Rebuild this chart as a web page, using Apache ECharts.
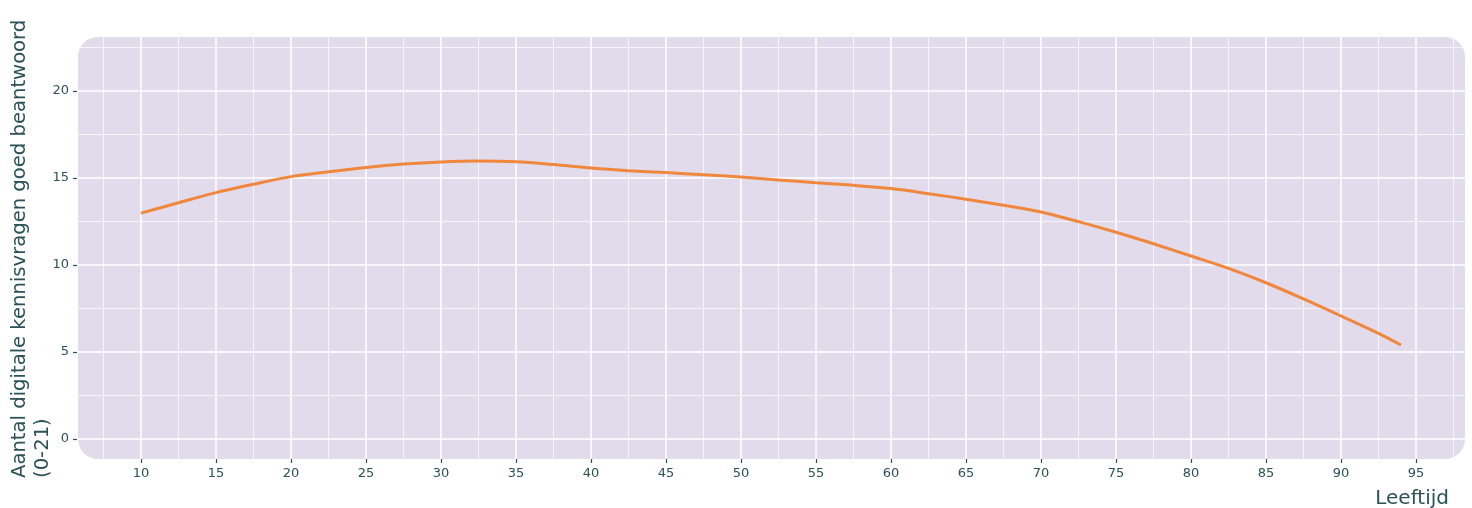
<!DOCTYPE html>
<html>
<head>
<meta charset="utf-8">
<script src="https://cdn.jsdelivr.net/npm/echarts@6/dist/echarts.min.js"></script>
<style>
  html, body { margin: 0; padding: 0; background: #fff; }
  #chart { width: 1472px; height: 508px; }
</style>
</head>
<body>
<div id="chart"></div>
<script>
// leeftijd (x) en gemiddeld aantal goed beantwoorde vragen (y)
const ages = [10, 12.5, 15, 17.5, 20, 22.5, 25, 27.5, 30, 32.5, 35, 37.5, 40, 42.5, 45, 47.5, 50,
  52.5, 55, 57.5, 60, 62.5, 65, 67.5, 70, 72.5, 75, 77.5, 80, 82.5, 85, 87.5, 90, 92.5, 94];
const scores = [12.98, 13.58, 14.16, 14.64, 15.08, 15.36, 15.61, 15.80, 15.92, 15.97, 15.93, 15.77, 15.57,
  15.42, 15.31, 15.19, 15.06, 14.89, 14.73, 14.58, 14.39, 14.10, 13.78, 13.43, 13.05, 12.49, 11.88,
  11.22, 10.52, 9.81, 8.98, 8.05, 7.07, 6.07, 5.40];
const xTicks = [10, 15, 20, 25, 30, 35, 40, 45, 50, 55, 60, 65, 70, 75, 80, 85, 90, 95];
const yTicks = [0, 5, 10, 15, 20];

const textColor = '#2b5258';
const font = 'DejaVu Sans';

const initChart = () => {
  const chartDom = document.getElementById('chart');
  const myChart = echarts.init(chartDom);

  // assen voor het raster (geen labels)
  const gridAxis = (extra) => Object.assign({
    type: 'value',
    interval: 5,
    axisLine: { show: false, onZero: false },
    axisTick: { show: false },
    axisLabel: { show: false },
    splitLine: { show: true, lineStyle: { color: '#ffffff', width: 1.5 } },
    minorTick: { show: false, splitNumber: 2 },
    minorSplitLine: { show: true, lineStyle: { color: 'rgba(255,255,255,0.7)', width: 1 } },
  }, extra);

  // assen voor ticks en labels
  const labelAxis = (extra, ticks) => Object.assign({
    type: 'value',
    interval: 5,
    z: 5,
    axisLine: { show: false, onZero: false },
    axisTick: { show: true, length: 4, customValues: ticks, lineStyle: { color: textColor, width: 1.2 } },
    axisLabel: { show: true, customValues: ticks, color: textColor, fontSize: 13, fontFamily: font, margin: 8 },
    splitLine: { show: false },
  }, extra);

  myChart.setOption({
    animation: false,
    grid: {
      left: 66,
      top: 4,
      width: 1425,
      height: 522,
      outerBoundsMode: 'none',
      containLabel: false,
    },
    xAxis: [
      gridAxis({ min: 5, max: 100 }),
      labelAxis({ min: 5, max: 100, position: 'bottom', offset: -67 }, xTicks),
    ],
    yAxis: [
      gridAxis({ min: -5, max: 25 }),
      labelAxis({ min: -5, max: 25, position: 'left', offset: -11 }, yTicks),
    ],
    graphic: [
      {
        type: 'rect',
        z: -10,
        silent: true,
        shape: { x: 78, y: 37, width: 1387, height: 422, r: 20 },
        style: { fill: '#e1dbec' },
      },
      {
        type: 'text',
        z: 10,
        x: 8,
        y: 478,
        rotation: Math.PI / 2,
        style: {
          text: 'Aantal digitale kennisvragen goed beantwoord\n(0-21)',
          font: '19.6px "DejaVu Sans"',
          lineHeight: 23,
          fill: textColor,
          align: 'left',
          verticalAlign: 'top',
          textAlign: 'left',
          textVerticalAlign: 'top',
        },
      },
      {
        type: 'text',
        z: 10,
        x: 1449,
        y: 499,
        style: {
          text: 'Leeftijd',
          font: '20px "DejaVu Sans"',
          fill: textColor,
          align: 'right',
          verticalAlign: 'middle',
          textAlign: 'right',
          textVerticalAlign: 'middle',
        },
      },
    ],
    series: [
      {
        type: 'line',
        xAxisIndex: 0,
        yAxisIndex: 0,
        smooth: 0.3,
        showSymbol: false,
        lineStyle: { color: '#f0873c', width: 3 },
        data: ages.map((a, i) => [a, scores[i]]),
      },
    ],
  });
};

initChart();
</script>
</body>
</html>
